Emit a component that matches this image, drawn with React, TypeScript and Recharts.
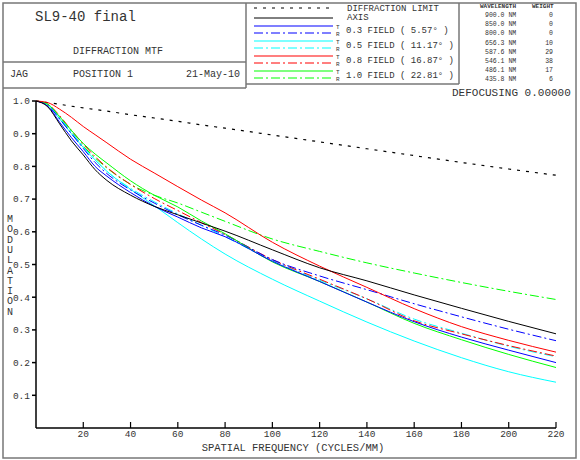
import React from "react";
import { LineChart, Line, XAxis, YAxis } from "recharts";

// spatial frequency samples (cycles/mm)
const freq = [0, 5, 10, 15, 20, 25, 30, 40, 50, 60, 70, 80, 100, 120, 140, 160, 180, 200, 220];

const diffLimit = [1.0, 0.995, 0.99, 0.984, 0.979, 0.974, 0.969, 0.958, 0.948, 0.938, 0.927, 0.917, 0.896, 0.875, 0.854, 0.833, 0.812, 0.792, 0.773];
const axisMtf = [1.0, 0.982, 0.93, 0.878, 0.835, 0.79, 0.757, 0.712, 0.678, 0.652, 0.627, 0.602, 0.545, 0.49, 0.45, 0.407, 0.366, 0.326, 0.288];
const f03T = [1.0, 0.984, 0.935, 0.888, 0.845, 0.8, 0.77, 0.72, 0.678, 0.645, 0.612, 0.585, 0.51, 0.448, 0.385, 0.325, 0.278, 0.238, 0.2];
const f03R = [1.0, 0.986, 0.945, 0.9, 0.855, 0.812, 0.778, 0.728, 0.688, 0.652, 0.62, 0.59, 0.515, 0.465, 0.423, 0.38, 0.34, 0.302, 0.267];
const f05T = [1.0, 0.988, 0.945, 0.9, 0.858, 0.82, 0.785, 0.73, 0.68, 0.628, 0.578, 0.532, 0.455, 0.388, 0.324, 0.266, 0.215, 0.172, 0.14];
const f05R = [1.0, 0.988, 0.95, 0.905, 0.86, 0.82, 0.785, 0.733, 0.692, 0.655, 0.62, 0.585, 0.512, 0.452, 0.395, 0.333, 0.29, 0.25, 0.218];
const f08T = [1.0, 0.995, 0.975, 0.95, 0.922, 0.897, 0.872, 0.822, 0.78, 0.738, 0.697, 0.658, 0.568, 0.495, 0.43, 0.365, 0.31, 0.268, 0.232];
const f08R = [1.0, 0.99, 0.955, 0.91, 0.868, 0.83, 0.797, 0.745, 0.702, 0.665, 0.628, 0.592, 0.515, 0.455, 0.395, 0.328, 0.288, 0.252, 0.22];
const f10T = [1.0, 0.99, 0.952, 0.91, 0.87, 0.838, 0.81, 0.756, 0.712, 0.676, 0.633, 0.594, 0.508, 0.448, 0.385, 0.32, 0.27, 0.225, 0.185];
const f10R = [1.0, 0.99, 0.95, 0.905, 0.862, 0.826, 0.795, 0.745, 0.712, 0.688, 0.66, 0.632, 0.578, 0.54, 0.505, 0.474, 0.445, 0.418, 0.393];

const xTicks = [20, 40, 60, 80, 100, 120, 140, 160, 180, 200, 220];
const yTicks = [0.1, 0.2, 0.3, 0.4, 0.5, 0.6, 0.7, 0.8, 0.9, 1.0];

const fieldLabels = [
  { label: "0.3 FIELD ( 5.57\u00b0 )", color: "#0000ff" },
  { label: "0.5 FIELD ( 11.17\u00b0 )", color: "#00ffff" },
  { label: "0.8 FIELD ( 16.87\u00b0 )", color: "#ff0000" },
  { label: "1.0 FIELD ( 22.81\u00b0 )", color: "#00ff00" },
];

const wavelengths = ["900.0", "850.0", "800.0", "656.3", "587.6", "546.1", "486.1", "435.8"];
const weights = [0, 0, 0, 10, 29, 38, 17, 6];

const data = freq.map((f, i) => ({
  f,
  diff: diffLimit[i],
  axis: axisMtf[i],
  f03T: f03T[i],
  f03R: f03R[i],
  f05T: f05T[i],
  f05R: f05R[i],
  f08T: f08T[i],
  f08R: f08R[i],
  f10T: f10T[i],
  f10R: f10R[i],
}));

const MONO = "'Liberation Mono', 'DejaVu Sans Mono', monospace";
const TXT = "#333";
const DASHDOT = "9 3 2 3";

const W = 580;
const H = 460;
const MARGIN = { top: 101, right: 24, bottom: 12, left: 6 };
const XAXIS_H = 20;
const PLOT_BOTTOM = H - MARGIN.bottom - XAXIS_H;

// x ticks point up into the plot, labels sit just under the axis line
const XTick = (props: any) => {
  const { x, payload } = props;
  return (
    <g>
      <line x1={x} x2={x} y1={PLOT_BOTTOM} y2={PLOT_BOTTOM - 6} stroke="#000" strokeWidth={1.2} />
      <text x={x} y={PLOT_BOTTOM + 9} textAnchor="middle" fontFamily={MONO} fontSize={9.5} fill={TXT}>
        {payload.value}
      </text>
    </g>
  );
};

export default function App() {
  return (
    <div style={{ position: "absolute", left: 0, top: 0, width: W, height: H, background: "#fff" }}>
      <div style={{ position: "absolute", left: 0, top: 0 }}>
        <LineChart width={W} height={H} data={data} margin={MARGIN}>
          <XAxis
            dataKey="f"
            type="number"
            domain={[0, 220]}
            ticks={xTicks}
            tick={<XTick />}
            tickSize={0}
            tickMargin={0}
            height={XAXIS_H}
            stroke="#000"
            strokeWidth={1.5}
          />
          <YAxis
            type="number"
            domain={[0, 1]}
            ticks={yTicks}
            tickFormatter={(v: number) => v.toFixed(1)}
            width={30}
            tickSize={4}
            tick={{ fontFamily: MONO, fontSize: 9.5, fill: TXT }}
            stroke="#000"
            strokeWidth={1.5}
          />
          <Line dataKey="diff" stroke="#000" strokeWidth={1.2} strokeDasharray="3 6" dot={false} type="monotone" isAnimationActive={false} />
          <Line dataKey="f10R" stroke="#00ff00" strokeWidth={1} strokeDasharray={DASHDOT} dot={false} type="monotone" isAnimationActive={false} />
          <Line dataKey="f05T" stroke="#00ffff" strokeWidth={1} dot={false} type="monotone" isAnimationActive={false} />
          <Line dataKey="f05R" stroke="#00ffff" strokeWidth={1} strokeDasharray={DASHDOT} dot={false} type="monotone" isAnimationActive={false} />
          <Line dataKey="f08R" stroke="#ff0000" strokeWidth={1} strokeDasharray={DASHDOT} dot={false} type="monotone" isAnimationActive={false} />
          <Line dataKey="f03R" stroke="#0000ff" strokeWidth={1} strokeDasharray={DASHDOT} dot={false} type="monotone" isAnimationActive={false} />
          <Line dataKey="f10T" stroke="#00ff00" strokeWidth={1} dot={false} type="monotone" isAnimationActive={false} />
          <Line dataKey="f03T" stroke="#0000ff" strokeWidth={1} dot={false} type="monotone" isAnimationActive={false} />
          <Line dataKey="f08T" stroke="#ff0000" strokeWidth={1} dot={false} type="monotone" isAnimationActive={false} />
          <Line dataKey="axis" stroke="#000" strokeWidth={1} dot={false} type="monotone" isAnimationActive={false} />
        </LineChart>
      </div>

      <svg width={W} height={H} style={{ position: "absolute", left: 0, top: 0, pointerEvents: "none" }}>
        {/* outer frame and header boxes */}
        <rect x={3} y={3} width={573} height={455} fill="none" stroke="#777" strokeWidth={1.5} />
        <line x1={246} y1={3} x2={246} y2={88} stroke="#777" strokeWidth={1.5} />
        <line x1={3} y1={62} x2={246} y2={62} stroke="#777" strokeWidth={1.5} />
        <line x1={3} y1={88} x2={246} y2={88} stroke="#777" strokeWidth={1.5} />
        <line x1={246} y1={84} x2={459} y2={84} stroke="#777" strokeWidth={1.5} />
        <line x1={459} y1={3} x2={459} y2={84} stroke="#777" strokeWidth={1.5} />

        <text x={35} y={21} fontFamily={MONO} fontSize={14} fill={TXT}>SL9-40 final</text>
        <text x={73} y={54} fontFamily={MONO} fontSize={10} fill={TXT}>DIFFRACTION MTF</text>
        <text x={10} y={77} fontFamily={MONO} fontSize={10} fill={TXT}>JAG</text>
        <text x={73} y={77} fontFamily={MONO} fontSize={10} fill={TXT}>POSITION 1</text>
        <text x={186} y={77} fontFamily={MONO} fontSize={10} fill={TXT}>21-May-10</text>

        {/* legend */}
        <line x1={254} y1={8} x2={333} y2={8} stroke="#000" strokeWidth={1.2} strokeDasharray="3 6" />
        <text x={347} y={11} fontFamily={MONO} fontSize={9} fill={TXT}>DIFFRACTION LIMIT</text>
        <line x1={254} y1={18} x2={333} y2={18} stroke="#000" strokeWidth={1} />
        <text x={347} y={20} fontFamily={MONO} fontSize={9} fill={TXT}>AXIS</text>
        {fieldLabels.map((fl, i) => {
          const y0 = 26 + i * 15;
          return (
            <g key={fl.label}>
              <line x1={254} y1={y0} x2={333} y2={y0} stroke={fl.color} strokeWidth={1.2} />
              <line x1={254} y1={y0 + 7} x2={333} y2={y0 + 7} stroke={fl.color} strokeWidth={1.2} strokeDasharray={DASHDOT} />
              <text x={336} y={y0 + 3} fontFamily={MONO} fontSize={6} fill={TXT}>T</text>
              <text x={336} y={y0 + 10} fontFamily={MONO} fontSize={6} fill={TXT}>R</text>
              <text x={346} y={y0 + 7} fontFamily={MONO} fontSize={9} fill={TXT}>{fl.label}</text>
            </g>
          );
        })}

        {/* wavelength table */}
        <text x={480} y={8} fontFamily={MONO} fontSize={6} fill={TXT} fontWeight="bold">WAVELENGTH</text>
        <text x={532} y={8} fontFamily={MONO} fontSize={6} fill={TXT} fontWeight="bold">WEIGHT</text>
        {wavelengths.map((w, i) => (
          <g key={w}>
            <text x={485} y={17 + i * 9.2} fontFamily={MONO} fontSize={6.5} fill={TXT}>{w} NM</text>
            <text x={553} y={17 + i * 9.2} textAnchor="end" fontFamily={MONO} fontSize={6.5} fill={TXT}>{weights[i]}</text>
          </g>
        ))}

        <text x={452} y={96} fontFamily={MONO} fontSize={11} fill={TXT}>DEFOCUSING 0.00000</text>

        {/* axis titles */}
        <text x={293} y={451} textAnchor="middle" fontFamily={MONO} fontSize={10.5} fill={TXT}>SPATIAL FREQUENCY (CYCLES/MM)</text>
        <text x={10} y={222} textAnchor="middle" fontFamily={MONO} fontSize={10} fill={TXT}>
          {"MODULATION".split("").map((ch, i) => (
            <tspan key={i} x={10} dy={i === 0 ? 0 : 10.3}>{ch}</tspan>
          ))}
        </text>
      </svg>
    </div>
  );
}
